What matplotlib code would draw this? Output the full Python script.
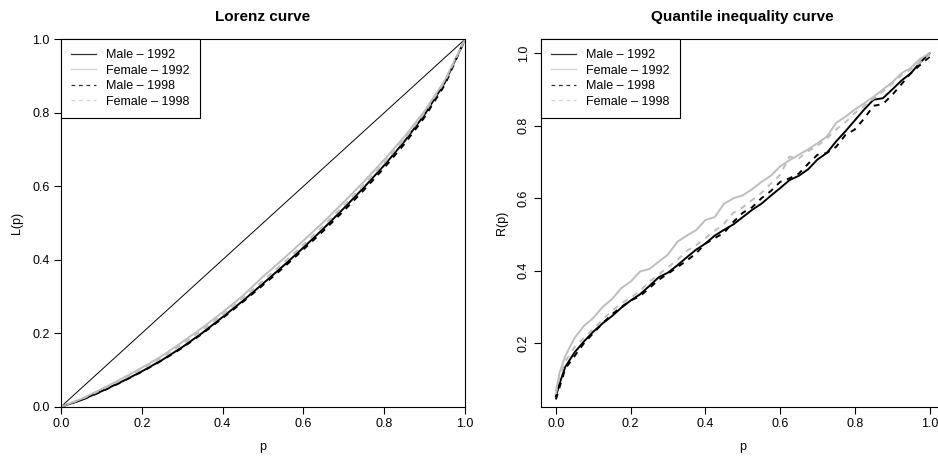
import matplotlib
matplotlib.use("Agg")
import matplotlib.pyplot as plt
import numpy as np
from matplotlib.lines import Line2D

plt.rcParams['font.family'] = ['Liberation Sans', 'DejaVu Sans']

# ---------------- data ----------------
series_labels = ["Male \u2013 1992", "Female \u2013 1992", "Male \u2013 1998", "Female \u2013 1998"]
series_colors = ["black", "#BEBEBE", "black", "#BEBEBE"]
series_styles = ["-", "-", "--", "--"]

lorenz_p = [0.00, 0.05, 0.10, 0.15, 0.20, 0.25, 0.30, 0.35, 0.40, 0.45, 0.50,
            0.55, 0.60, 0.65, 0.70, 0.75, 0.80, 0.85, 0.90, 0.95, 1.00]
lorenz_male_1992 = [0, .018, .042, .068, .096, .127, .162, .201, .244, .288, .335,
                    .383, .433, .485, .540, .597, .657, .722, .795, .882, 1.0]
lorenz_female_1992 = [0, .021, .048, .076, .106, .138, .176, .215, .257, .302, .354,
                      .402, .452, .503, .557, .613, .672, .735, .805, .888, 1.0]
lorenz_male_1998 = [0, .018, .041, .067, .095, .126, .160, .199, .241, .285, .331,
                    .378, .428, .479, .533, .590, .650, .715, .788, .876, 1.0]
lorenz_female_1998 = [0, .020, .046, .073, .102, .134, .170, .209, .250, .295, .343,
                      .391, .441, .493, .547, .604, .664, .728, .800, .885, 1.0]

qic_p = [0.0, 0.01, 0.025, 0.05, 0.075, 0.1, 0.125, 0.15, 0.175, 0.2, 0.225, 0.25,
         0.275, 0.3, 0.325, 0.35, 0.375, 0.4, 0.425, 0.45, 0.475, 0.5, 0.525, 0.55,
         0.575, 0.6, 0.625, 0.65, 0.675, 0.7, 0.725, 0.75, 0.775, 0.8, 0.825, 0.85,
         0.875, 0.9, 0.925, 0.95, 0.975, 1.0]
qic_male_1992 = [.053, .090, .135, .175, .205, .232, .255, .275, .298, .318, .335, .358,
                 .382, .395, .415, .437, .458, .475, .497, .513, .528, .548, .568, .585,
                 .607, .628, .650, .662, .680, .707, .725, .757, .785, .815, .845, .872,
                 .876, .900, .925, .945, .975, 1.0]
qic_female_1992 = [.070, .120, .165, .215, .248, .270, .300, .322, .352, .370, .398, .405,
                   .425, .445, .480, .497, .512, .540, .548, .585, .600, .608, .625, .645,
                   .662, .688, .705, .720, .735, .752, .770, .808, .825, .845, .862, .880,
                   .900, .920, .945, .960, .985, 1.0]
qic_male_1998 = [.045, .080, .130, .165, .200, .228, .255, .280, .300, .318, .330, .352,
                 .375, .392, .410, .428, .448, .475, .490, .505, .535, .560, .575, .600,
                 .620, .645, .655, .668, .695, .720, .725, .742, .775, .790, .820, .855,
                 .860, .885, .915, .945, .968, .990]
qic_female_1998 = [.060, .110, .150, .190, .215, .240, .265, .290, .310, .325, .345, .370,
                   .390, .410, .430, .455, .470, .490, .510, .530, .560, .575, .595, .615,
                   .640, .665, .715, .710, .730, .745, .765, .790, .810, .835, .855, .875,
                   .895, .915, .940, .955, .975, .995]

ticks = [0.0, 0.2, 0.4, 0.6, 0.8, 1.0]
tick_labels = ["0.0", "0.2", "0.4", "0.6", "0.8", "1.0"]
qic_yticks = [0.2, 0.4, 0.6, 0.8, 1.0]
qic_ytick_labels = ["0.2", "0.4", "0.6", "0.8", "1.0"]

# ---------------- figure ----------------
W, H = 938, 461
fig = plt.figure(figsize=(W / 100, H / 100), dpi=100)

def frac(l, t, r, b):
    return [l / W, 1 - b / H, (r - l) / W, (b - t) / H]

ax1 = fig.add_axes(frac(61, 39.3, 465, 406.7))
ax2 = fig.add_axes(frac(541, 39.3, 944.5, 406.7))

FS = 9
for ax in (ax1, ax2):
    for s in ax.spines.values():
        s.set_linewidth(0.8)
        s.set_color("black")
    ax.tick_params(direction="out", length=5, width=0.8, labelsize=FS, pad=3,
                   colors="black")

def dash(ls):
    return (3, 3) if ls == "--" else (None, None)

# Lorenz
lorenz = [lorenz_male_1992, lorenz_female_1992, lorenz_male_1998, lorenz_female_1998]
ax1.plot([0, 1], [0, 1], color="black", lw=0.7)
for ys, c, ls in zip(lorenz, series_colors, series_styles):
    ax1.plot(lorenz_p, ys, color=c, ls=ls, lw=1.4, dashes=dash(ls))
ax1.set_xlim(0, 1)
ax1.set_ylim(0, 1)
ax1.set_xticks(ticks)
ax1.set_xticklabels(tick_labels)
ax1.set_yticks(ticks)
ax1.set_yticklabels(tick_labels)
ax1.set_xlabel("p", fontsize=FS, labelpad=8)
ax1.set_ylabel("L(p)", fontsize=FS, labelpad=7)
ax1.set_title("Lorenz curve", fontsize=11, fontweight="bold", pad=13)

# QIC
qic = [qic_male_1992, qic_female_1992, qic_male_1998, qic_female_1998]
for ys, c, ls in zip(qic, series_colors, series_styles):
    ax2.plot(qic_p, ys, color=c, ls=ls, lw=1.4, dashes=dash(ls))
ax2.set_xlim(-0.04, 1.04)
ax2.set_ylim(0.025, 1.0386)
ax2.set_xticks(ticks)
ax2.set_xticklabels(tick_labels)
ax2.set_yticks(qic_yticks)
ax2.set_yticklabels(qic_ytick_labels, rotation=90, va="center")
ax2.set_xlabel("p", fontsize=FS, labelpad=8)
ax2.set_ylabel("R(p)", fontsize=FS, labelpad=7)
ax2.set_title("Quantile inequality curve", fontsize=11, fontweight="bold", pad=13)

# legends
def handles():
    hs = []
    for c, ls in zip(series_colors, series_styles):
        col = "#D3D3D3" if c != "black" else "#333333"
        hs.append(Line2D([], [], color=col, ls=ls, lw=0.9, dashes=dash(ls)))
    return hs

for ax in (ax1, ax2):
    leg = ax.legend(handles(), series_labels, loc="upper left", borderaxespad=0,
                    fancybox=False, framealpha=1, edgecolor="black", fontsize=FS,
                    handlelength=2.0, handletextpad=0.8, labelspacing=0.28,
                    borderpad=0.8)
    leg.get_frame().set_linewidth(0.8)

fig.savefig("out.png", dpi=100)
